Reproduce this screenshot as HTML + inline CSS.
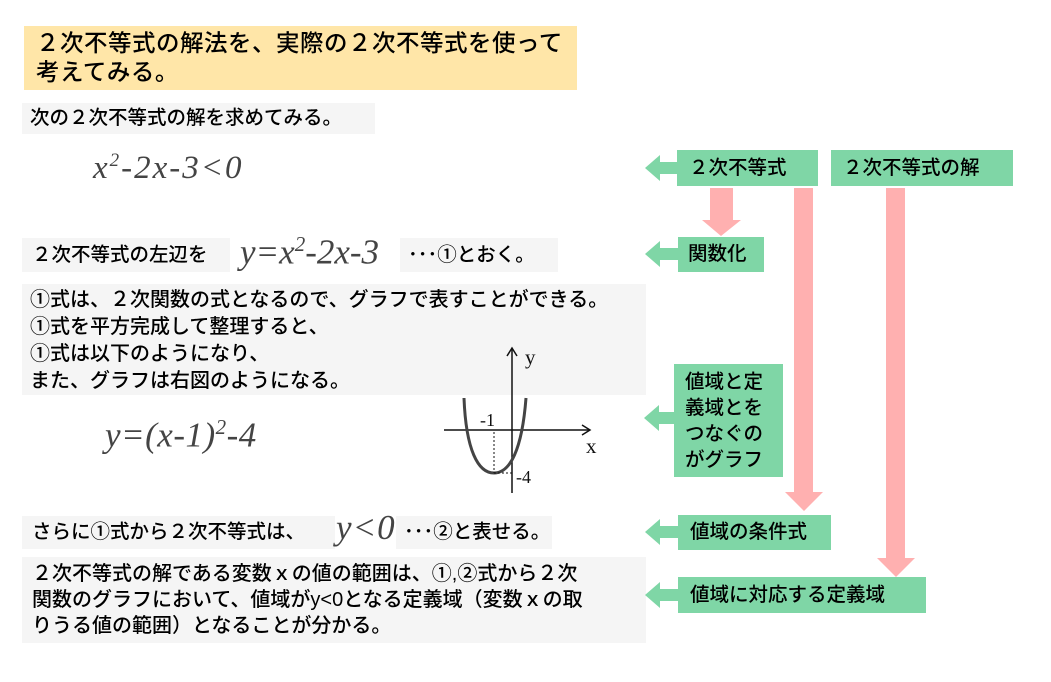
<!DOCTYPE html>
<html><head><meta charset="utf-8"><style>
body{margin:0;width:1051px;height:682px;background:#fff;position:relative;overflow:hidden;font-family:"Liberation Sans","Noto Sans CJK JP",sans-serif;color:#000}
.a{position:absolute}
.g{background:#f5f5f5}
.t{font-size:19.5px;line-height:27px;white-space:nowrap;font-weight:500}
.m{font-family:"Liberation Serif",serif;font-style:italic;color:#444;white-space:nowrap;letter-spacing:1px}
.gr{background:#7fd6a6;font-size:19.5px;white-space:nowrap;font-weight:500}
</style></head><body>
<div class="a" style="left:24px;top:26px;width:553px;height:64px;background:#ffe6a8"></div>
<div class="a t" style="left:36px;top:29px;font-size:23.5px;line-height:29px;letter-spacing:0.5px">２次不等式の解法を、実際の２次不等式を使って<br>考えてみる。</div>

<div class="a g" style="left:22px;top:103px;width:353px;height:31px"></div>
<div class="a t" style="left:30px;top:105px">次の２次不等式の解を求めてみる。</div>
<div class="a m" style="left:93px;top:150px;font-size:33px;letter-spacing:2px">x<sup style="font-size:19px">2</sup>-2x-3&lt;0</div>

<div class="a g" style="left:22px;top:238px;width:208px;height:34px"></div>
<div class="a g" style="left:400px;top:238px;width:158px;height:34px"></div>
<div class="a t" style="left:32px;top:242px">２次不等式の左辺を</div>
<div class="a m" style="left:240px;top:232px;font-size:35px;letter-spacing:0">y=x<sup style="font-size:21px">2</sup>-2x-3</div>
<div class="a t" style="left:408px;top:242px">･･･①とおく。</div>

<div class="a g" style="left:22px;top:284px;width:624px;height:111px"></div>
<div class="a t" style="left:30px;top:287px;font-size:20px">①式は、２次関数の式となるので、グラフで表すことができる。<br>①式を平方完成して整理すると、<br>①式は以下のようになり、<br>また、グラフは右図のようになる。</div>
<div class="a m" style="left:105px;top:415px;font-size:35px;letter-spacing:0.5px">y=(x-1)<sup style="font-size:21px">2</sup>-4</div>

<svg class="a" style="left:430px;top:340px" width="180" height="160">
<g stroke="#111" stroke-width="1.5" fill="none">
<line x1="82" y1="153" x2="82" y2="8"/><polyline points="77,16 82,8 87,16"/>
<line x1="14" y1="90" x2="160" y2="90"/><polyline points="152,85 160,90 152,95"/>
</g>
<path d="M34,58 C36,110 48,133 64,133 C80,133 92,110 96,58" stroke="#444" stroke-width="3" fill="none"/>
<g stroke="#111" stroke-width="1" stroke-dasharray="2,2"><line x1="64" y1="92" x2="64" y2="133"/><line x1="64" y1="133" x2="82" y2="133"/></g>
<g font-family="Liberation Serif,serif" font-size="21" fill="#111"><text x="95" y="24">y</text><text x="156" y="113">x</text><text x="50" y="86" font-size="18">-1</text><text x="86" y="143" font-size="18">-4</text></g>
</svg>

<div class="a g" style="left:22px;top:516px;width:313px;height:33px"></div>
<div class="a g" style="left:396px;top:516px;width:156px;height:33px"></div>
<div class="a t" style="left:32px;top:519px">さらに①式から２次不等式は、</div>
<div class="a m" style="left:336px;top:508px;font-size:35px">y&lt;0</div>
<div class="a t" style="left:404px;top:519px">･･･②と表せる。</div>

<div class="a g" style="left:22px;top:557px;width:624px;height:86px"></div>
<div class="a t" style="left:32px;top:561px;line-height:26px;font-size:20px">２次不等式の解である変数ｘの値の範囲は、①,②式から２次<br>関数のグラフにおいて、値域がy&lt;0となる定義域（変数ｘの取<br>りうる値の範囲）となることが分かる。</div>

<svg class="a" style="left:0;top:0" width="1051" height="682">
<g fill="#7fd6a6">
<polygon points="645,168 660,155 660,162 677,162 677,174 660,174 660,181"/>
<polygon points="645,254 660,241 660,248 678,248 678,260 660,260 660,267"/>
<polygon points="644,418 659,405 659,412 675,412 675,424 659,424 659,431"/>
<polygon points="645,532 660,519 660,526 678,526 678,538 660,538 660,545"/>
<polygon points="645,595 660,582 660,589 678,589 678,601 660,601 660,608"/>
</g>
<g fill="#ffb0b0">
<polygon points="710,188 733,188 733,220 741,220 721,236 702,220 710,220"/>
<polygon points="794,188 813,188 813,492 823,492 804,511 785,492 794,492"/>
<polygon points="886,188 905,188 905,558 915,558 896,577 877,558 886,558"/>
</g>
</svg>

<div class="a gr" style="left:677px;top:150px;width:141px;height:36px;line-height:36px;text-indent:12px">２次不等式</div>
<div class="a gr" style="left:831px;top:150px;width:182px;height:36px;line-height:36px;text-indent:12px">２次不等式の解</div>
<div class="a gr" style="left:678px;top:237px;width:86px;height:35px;line-height:35px;text-indent:10px">関数化</div>
<div class="a gr" style="left:674px;top:364px;width:109px;height:113px;line-height:26px;padding:5px 0 0 11px;box-sizing:border-box">値域と定<br>義域とを<br>つなぐの<br>がグラフ</div>
<div class="a gr" style="left:678px;top:515px;width:153px;height:35px;line-height:35px;text-indent:12px">値域の条件式</div>
<div class="a gr" style="left:678px;top:577px;width:248px;height:36px;line-height:36px;text-indent:12px">値域に対応する定義域</div>
</body></html>
